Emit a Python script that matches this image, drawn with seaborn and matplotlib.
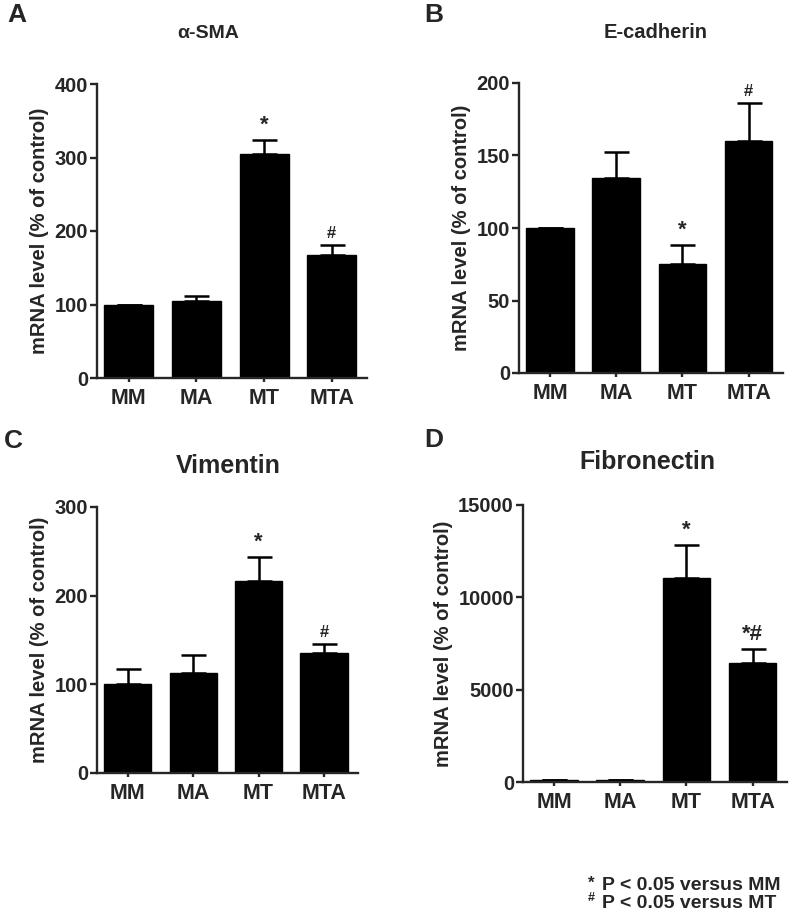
import numpy as np
import matplotlib
matplotlib.use("Agg")
import matplotlib.pyplot as plt
import seaborn as sns

groups = ["MM", "MA", "MT", "MTA"]

sma_mean = [100, 105, 305, 168]
sma_err = [0, 6, 19, 13]
sma_marks = ["", "", "*", "#"]

ecad_mean = [100, 134.5, 75, 160]
ecad_err = [0, 18, 13.5, 26]
ecad_marks = ["", "", "*", "#"]

vim_mean = [100, 113, 217, 135]
vim_err = [17, 20, 26.5, 10.5]
vim_marks = ["", "", "*", "#"]

fn_mean = [100, 110, 11060, 6460]
fn_err = [20, 20, 1790, 730]
fn_marks = ["", "", "*", "*#"]

sns.set_style("ticks")
plt.rcParams["font.family"] = ["Liberation Sans", "DejaVu Sans"]
plt.rcParams["font.weight"] = "bold"
plt.rcParams["axes.labelweight"] = "bold"

W, H = 800, 918
fig = plt.figure(figsize=(8, 9.18), dpi=100)


def px_axes(left, top, right, bottom):
    return fig.add_axes([left / W, 1 - bottom / H, (right - left) / W, (bottom - top) / H])


def draw_panel(ax, means, errs, marks, yticks):
    sns.barplot(x=groups, y=means, color="black", saturation=1, width=0.72,
                edgecolor="black", errorbar=None, ax=ax)
    ax.errorbar(range(len(groups)), means, yerr=[np.zeros(len(errs)), errs],
                fmt="none", ecolor="black", elinewidth=1.8, capsize=9, capthick=1.8)
    for i, m in enumerate(marks):
        if not m:
            continue
        size = 12 if m == "#" else 16
        ax.annotate(m, (i, means[i] + errs[i]), xytext=(0, 3), textcoords="offset points",
                    ha="center", va="bottom", fontsize=size, fontweight="bold",
                    annotation_clip=False)
    ax.set_xlim(-0.47, 3.52)
    ax.set_ylim(0, yticks[-1])
    ax.set_yticks(yticks)
    ax.set_ylabel("mRNA level (% of control)", fontsize=14.5)
    ax.set_xlabel("")
    sns.despine(ax=ax)
    for s in ["left", "bottom"]:
        ax.spines[s].set_linewidth(1.7)
    ax.tick_params(axis="y", labelsize=14.5, length=5, width=1.7, pad=1.5)
    ax.tick_params(axis="x", labelsize=15.5, length=3, width=1.7, pad=4)


axA = px_axes(97, 84, 367, 378)
draw_panel(axA, sma_mean, sma_err, sma_marks, [0, 100, 200, 300, 400])
axB = px_axes(519, 83, 783, 373)
draw_panel(axB, ecad_mean, ecad_err, ecad_marks, [0, 50, 100, 150, 200])
axC = px_axes(97, 507, 358, 773)
draw_panel(axC, vim_mean, vim_err, vim_marks, [0, 100, 200, 300])
axD = px_axes(523, 505, 787, 782)
draw_panel(axD, fn_mean, fn_err, fn_marks, [0, 5000, 10000, 15000])

# titles and panel letters
fig.text(208 / W, 1 - 34 / H, "α-SMA", ha="center", va="center", fontsize=14, fontweight="bold")
fig.text(656 / W, 1 - 32 / H, "E-cadherin", ha="center", va="center", fontsize=14.5, fontweight="bold")
fig.text(228 / W, 1 - 466 / H, "Vimentin", ha="center", va="center", fontsize=18, fontweight="bold")
fig.text(647 / W, 1 - 462 / H, "Fibronectin", ha="center", va="center", fontsize=18, fontweight="bold")

for x, y, lab in [(17, 15, "A"), (434, 15, "B"), (13, 441, "C"), (434, 440, "D")]:
    fig.text(x / W, 1 - y / H, lab, ha="center", va="center", fontsize=19, fontweight="bold")

# footnote
fig.text(591 / W, 1 - 883 / H, "*", ha="center", va="center", fontsize=12, fontweight="bold")
fig.text(602 / W, 1 - 885 / H, "P < 0.05 versus MM", ha="left", va="center", fontsize=14, fontweight="bold")
fig.text(591 / W, 1 - 898 / H, "#", ha="center", va="center", fontsize=9, fontweight="bold")
fig.text(602 / W, 1 - 903 / H, "P < 0.05 versus MT", ha="left", va="center", fontsize=14, fontweight="bold")

fig.savefig("out.png", dpi=100)
